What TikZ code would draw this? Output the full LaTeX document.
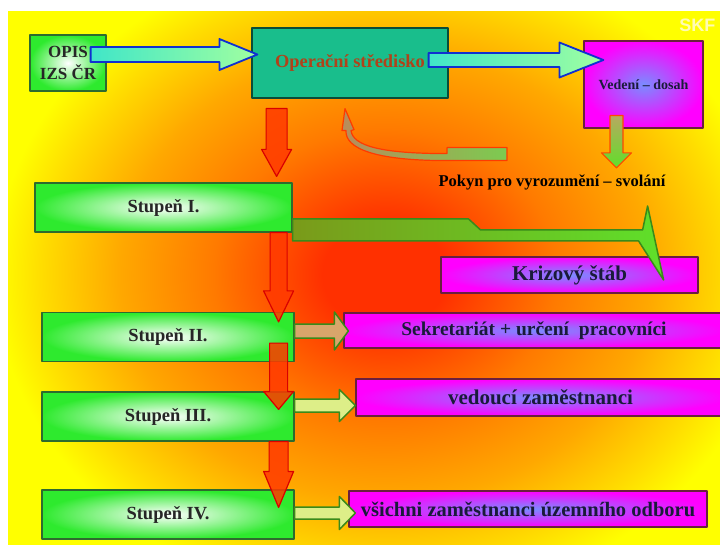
\documentclass[tikz,border=0pt]{standalone}
\usepackage{fontspec}
\setmainfont{Liberation Serif}
\newfontfamily\skffont{Liberation Sans}
\usetikzlibrary{calc}
\definecolor{glowred}{HTML}{FF3000}
\definecolor{gloworange}{HTML}{FF7A00}
\definecolor{glowamber}{HTML}{FFA800}
\definecolor{glowgold}{HTML}{FFDD00}
\definecolor{stgreen}{HTML}{2EEA2E}
\definecolor{stborder}{HTML}{2E6B2E}
\definecolor{opsteal}{HTML}{19BE8C}
\definecolor{lilac}{HTML}{7A8CFF}
\definecolor{boxmaroon}{HTML}{6B1F3F}
\definecolor{navytext}{HTML}{1A1A3A}
\definecolor{arrblue}{HTML}{1030D0}
\definecolor{aqua}{HTML}{40E6C8}
\definecolor{mint}{HTML}{A0FFA0}
\definecolor{arrred}{HTML}{FF3A00}
\definecolor{polive}{HTML}{7A9A1A}
\definecolor{pkhaki}{HTML}{B8A860}
\definecolor{leaf}{HTML}{5FE02A}
\definecolor{leafborder}{HTML}{3A8A1A}
\definecolor{ptan}{HTML}{D9A56B}
\definecolor{pale}{HTML}{DDEE88}
\definecolor{retgreen}{HTML}{7CCB50}
\definecolor{rust}{HTML}{B0431A}
\pgfdeclareradialshading{bgglow}{\pgfpoint{0bp}{0bp}}{color(0bp)=(glowred); color(4bp)=(glowred); color(11bp)=(gloworange); color(17bp)=(glowamber); color(22bp)=(glowgold); color(25bp)=(yellow); color(50bp)=(yellow)}
\begin{document}
\begin{tikzpicture}[x=1pt,y=-1pt,line join=round,
stbox/.style={draw=stborder,line width=1.2pt,inner color=white,outer color=stgreen,inner sep=0pt,text=black!85,font=\fontsize{18.5}{20}\selectfont\bfseries},
magbox/.style={draw=boxmaroon,line width=1.2pt,inner color=lilac,outer color=magenta,inner sep=0pt,text=navytext},
bluearr/.style={draw=arrblue,line width=1.8pt,left color=aqua,right color=mint},
tanarr/.style={draw=leafborder,line width=1.5pt,fill=ptan},
palearr/.style={draw=leafborder,line width=1.5pt,fill=pale},
redarr/.style={draw=red!85!black,line width=1.2pt,fill=arrred,fill opacity=.85}]
\useasboundingbox (0,0) rectangle (720,545);
\begin{scope}
\clip (8,12) rectangle (720,545);
\shade[shading=bgglow] (-5,-55) rectangle (775,605);
\end{scope}
\node[anchor=east,text=yellow!30,font=\skffont\bfseries\fontsize{18}{20}\selectfont] (skf) at (719,25) {SKF};
% boxes
\node[stbox,minimum width=76pt,minimum height=56pt,align=center,font=\fontsize{17}{22}\selectfont\bfseries] (opis) at (68,63) {OPIS\\IZS ČR};
\node[draw=black!60!opsteal,line width=1.2pt,fill=opsteal,minimum width=196pt,minimum height=70pt,text=rust,font=\fontsize{18.4}{20}\selectfont\bfseries] (ops) at (350,63) {Operační středisko};
\node[magbox,minimum width=119pt,minimum height=87pt,font=\fontsize{14}{16}\selectfont\bfseries] (ved) at (643.5,84.5) {Vedení – dosah};
\node[font=\fontsize{16.5}{18}\selectfont\bfseries] (pokyn) at (552,182) {Pokyn pro vyrozumění – svolání};
\foreach\n/\x/\y/\w/\lab in {s1/163.5/207.5/257/I., s2/168/337/252/II., s3/168/416.5/252/III., s4/168/514.5/252/IV.}
 \node[stbox,minimum width=\w pt,minimum height=49pt] (\n) at (\x,\y) {Stupeň \lab};
\node[magbox,minimum width=257pt,minimum height=36pt,font=\fontsize{21}{22}\selectfont\bfseries] (kriz) at (569.5,275) {Krizový štáb};
\node[magbox,minimum width=380pt,minimum height=35pt,font=\fontsize{19.5}{22}\selectfont\bfseries] (sekr) at (534,330.5) {Sekretariát + určení~ pracovníci};
\node[magbox,minimum width=369pt,minimum height=37pt,font=\fontsize{21}{22}\selectfont\bfseries] (ved2) at (540.5,397.5) {vedoucí zaměstnanci};
\node[magbox,minimum width=358pt,minimum height=36pt,font=\fontsize{20.5}{22}\selectfont\bfseries] (vsi) at (528,509) {všichni zaměstnanci územního odboru};
% block arrows to the right
\foreach\a/\b/\ox/\u/\tx/\sw/\hw/\hl/\st in {opis/ops/-16/-8.5/6/7.5/15.5/38/bluearr, ops/ved/-20/-3/20/7/17.5/44/bluearr, s2/sekr/0/-6/5/7/19/14/tanarr, s3/ved2/0/-11/0/6.5/16/16/palearr, s4/vsi/0/-1.5/7/6/16.5/16/palearr}
 \draw[\st] let \p1=($(\a.east)+(\ox,\u)$),\p2=($(\b.west)+(\tx,0)$) in (\x1,\y1+\sw*1pt)--(\x2-\hl*1pt,\y1+\sw*1pt)--(\x2-\hl*1pt,\y1+\hw*1pt)--(\x2,\y1)--(\x2-\hl*1pt,\y1-\hw*1pt)--(\x2-\hl*1pt,\y1-\sw*1pt)--(\x1,\y1-\sw*1pt)--cycle;
% red arrows down
\foreach\a/\b/\u/\v/\hl/\sw in {ops/s1/10/-6/27/10.5, s1/s2/0/10/31/8.5, s2/s3/-19/18/18/9, s3/s4/0/18/36/9.5}
 \draw[redarr] let \p1=($(\a.south)+(0,\u)$),\p2=($(\b.north east)+(-16,\v)$) in (\x2-\sw*1pt,\y1)--(\x2-\sw*1pt,\y2+\hl*1pt)--(\x2-15pt,\y2+\hl*1pt)--(\x2,\y2)--(\x2+15pt,\y2+\hl*1pt)--(\x2+\sw*1pt,\y2+\hl*1pt)--(\x2+\sw*1pt,\y1)--cycle;
\draw[draw=arrred!80!orange,line width=1.2pt,top color=pkhaki,bottom color=leaf] let \p1=($(ved.south)+(-27,-13)$),\p2=($(pokyn.north -| ved.south)+(-27,-3)$) in (\x1-6.5pt,\y1)--(\x1-6.5pt,\y2+15pt)--(\x1-15pt,\y2+15pt)--(\x1,\y2)--(\x1+15pt,\y2+15pt)--(\x1+6.5pt,\y2+15pt)--(\x1+6.5pt,\y1)--cycle;
% return arrow and arrow to the crisis staff
\draw[draw=arrred,line width=1.2pt,left color=ptan!85!black,right color=retgreen] ($(ops.south)+(-5,10)$)--++(9,21)--++(-3,1) .. controls +(2,15) and +(-67,0) .. ++(96,23)--++(0,-6)--++(60,0)--++(0,13)--++(-60,0) .. controls +(-72,0) and +(-1,18) .. ++(-101,-30)--++(-4,0)--cycle;
\draw[draw=leafborder,line width=1.5pt,left color=polive,right color=leaf] ($(s1.east)+(0,11.5)$)--++(176,0)--++(12,11)--++(162,0)--++(5,-24)--($(kriz.east)+(-35,5)$)--++(-25,-39)--($(s1.east)+(0,33.5)$)--cycle;
\end{tikzpicture}
\end{document}
